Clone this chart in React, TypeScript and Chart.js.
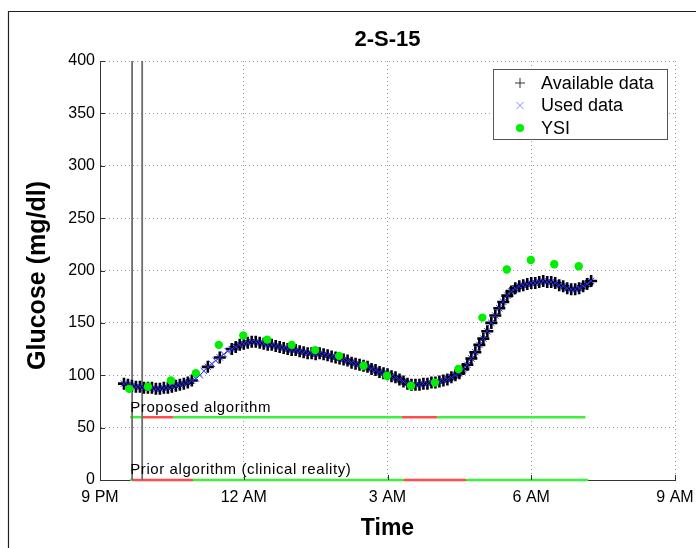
import { useEffect, useRef } from 'react';
import { Chart, registerables } from 'chart.js';

Chart.register(...registerables);

// ---------- text ----------
const chartTitle = '2-S-15';
const xAxisTitle = 'Time';
const yAxisTitle = 'Glucose (mg/dl)';
const legendLabels = ['Available data', 'Used data', 'YSI'];
const proposedLabel = 'Proposed algorithm';
const priorLabel = 'Prior algorithm (clinical reality)';

// ---------- axes ----------
const xTickHours = [21, 24, 27, 30, 33];
const xTickLabels = ['9 PM', '12 AM', '3 AM', '6 AM', '9 AM'];
const yTicks = [0, 50, 100, 150, 200, 250, 300, 350, 400];

// ---------- CGM sensor data (5-minute samples starting 21:30) ----------
const cgmStartHour = 21.5;
const cgmStepMinutes = 5;
const cgmValues = [
  92, 91, 90, 89, 89, 88,
  88, 88, 87, 87, 88, 88, 89, 90, 91, 92, 93, 95,
  97, 100, 104, 108, 111, 114, 117, 120, 123, 125, 127, 129,
  130, 131, 132, 132, 131, 130, 129, 129, 128, 127, 126, 125,
  124, 124, 123, 122, 121, 121, 120, 121, 120, 119, 118, 117,
  116, 115, 114, 112, 111, 110, 109, 108, 106, 105, 103, 102,
  101, 99, 98, 96, 94, 92, 91, 91, 91, 92, 92, 93,
  93, 94, 95, 96, 98, 100, 102, 106, 110, 116, 122, 129,
  135, 142, 150, 157, 164, 170, 176, 180, 183, 185, 186, 187,
  188, 188, 189, 190, 189, 189, 188, 186, 185, 183, 182, 182,
  183, 185, 187, 190,
];
// samples that are used but not present in the raw available stream
const availableMissingIdx = [18, 19, 20, 22, 23, 25, 26];

// ---------- YSI reference ----------
const ysiHours = [21.61, 22.0, 22.48, 23.0, 23.48, 23.99, 24.49, 25.0, 25.49, 25.99, 26.5, 26.99, 27.49, 27.99, 28.48, 28.98, 29.49, 29.99, 30.48, 30.99];
const ysiValues = [87, 89, 95, 102, 129, 138, 134, 129, 124, 118.5, 109, 99.5, 90, 93, 106, 155, 201, 210, 206, 204];

// ---------- sensor insertion markers ----------
const markerHours = [21.67, 21.88];

// ---------- alarm bars ----------
const proposedLevel = 60;
const proposedBounds = [21.63, 21.87, 22.53, 27.3, 28.04, 31.13];
const proposedStates = ['ok', 'alarm', 'ok', 'alarm', 'ok'];
const priorLevel = 0;
const priorBounds = [21.63, 21.68, 22.94, 27.34, 28.64, 31.19];
const priorStates = ['ok', 'alarm', 'ok', 'alarm', 'ok'];

const FONT = '"Liberation Sans", Arial, Helvetica, sans-serif';
const GREEN = '#3cf03c';
const RED = '#ff4d4d';
const BLUE = '#2a2aff';

function segDatasets(level: number, bounds: number[], states: string[]) {
  return states.map((s, i) => ({
    type: 'scatter' as const,
    data: [
      { x: bounds[i], y: level },
      { x: bounds[i + 1], y: level },
    ],
    showLine: true,
    borderColor: s === 'alarm' ? RED : GREEN,
    borderWidth: 2.5,
    pointRadius: 0,
    clip: false as any,
    order: 5,
  }));
}

const overlay = {
  id: 'overlay',
  afterDraw(chart: any) {
    const { ctx, chartArea: ca, scales } = chart;
    const x = scales.x;
    const y = scales.y;
    ctx.save();

    // figure frame
    ctx.strokeStyle = '#222';
    ctx.lineWidth = 1.2;
    ctx.beginPath();
    ctx.moveTo(8.5, 548);
    ctx.lineTo(8.5, 11.5);
    ctx.lineTo(696, 11.5);
    ctx.stroke();

    // inward tick marks
    ctx.strokeStyle = '#333';
    ctx.lineWidth = 1;
    ctx.beginPath();
    yTicks.forEach((v) => {
      const py = Math.round(y.getPixelForValue(v)) + 0.5;
      ctx.moveTo(ca.left, py);
      ctx.lineTo(ca.left + 5, py);
    });
    xTickHours.forEach((h) => {
      const px = Math.round(x.getPixelForValue(h)) + 0.5;
      ctx.moveTo(px, ca.bottom);
      ctx.lineTo(px, ca.bottom - 5);
    });
    ctx.stroke();

    // titles
    ctx.fillStyle = '#000';
    ctx.textAlign = 'center';
    ctx.textBaseline = 'middle';
    ctx.font = `bold 22px ${FONT}`;
    ctx.fillText(chartTitle, (ca.left + ca.right) / 2, 40);
    ctx.font = `bold 23px ${FONT}`;
    ctx.fillText(xAxisTitle, (ca.left + ca.right) / 2, 529);
    ctx.save();
    ctx.font = `bold 25px ${FONT}`;
    ctx.translate(38, (ca.top + ca.bottom) / 2 + 5);
    ctx.rotate(-Math.PI / 2);
    ctx.fillText(yAxisTitle, 0, 0);
    ctx.restore();

    // annotations
    ctx.textAlign = 'left';
    ctx.textBaseline = 'alphabetic';
    ctx.font = `15px ${FONT}`;
    try { (ctx as any).letterSpacing = '0.6px'; } catch (e) {}
    ctx.fillText(proposedLabel, x.getPixelForValue(proposedBounds[0]), y.getPixelForValue(proposedLevel) - 5);
    ctx.fillText(priorLabel, x.getPixelForValue(priorBounds[0]), y.getPixelForValue(priorLevel) - 6);
    try { (ctx as any).letterSpacing = '0px'; } catch (e) {}

    // legend
    const lw = 174, lh = 70;
    const lx = ca.right - 8 - lw;
    const ly = ca.top + 8;
    ctx.fillStyle = '#fff';
    ctx.fillRect(lx, ly, lw, lh);
    ctx.strokeStyle = '#555';
    ctx.lineWidth = 1;
    ctx.strokeRect(lx + 0.5, ly + 0.5, lw, lh);
    const mx = lx + 27;
    const tx = lx + 48;
    const rows = [ly + 14, ly + 36.5, ly + 59];
    // + marker
    ctx.strokeStyle = '#333';
    ctx.lineWidth = 1;
    ctx.beginPath();
    ctx.moveTo(mx - 5, rows[0]); ctx.lineTo(mx + 5, rows[0]);
    ctx.moveTo(mx, rows[0] - 5); ctx.lineTo(mx, rows[0] + 5);
    ctx.stroke();
    // x marker
    ctx.strokeStyle = '#8a8aff';
    ctx.beginPath();
    ctx.moveTo(mx - 3.5, rows[1] - 3.5); ctx.lineTo(mx + 3.5, rows[1] + 3.5);
    ctx.moveTo(mx - 3.5, rows[1] + 3.5); ctx.lineTo(mx + 3.5, rows[1] - 3.5);
    ctx.stroke();
    // dot
    ctx.fillStyle = '#00ee00';
    ctx.beginPath();
    ctx.arc(mx, rows[2], 4, 0, Math.PI * 2);
    ctx.fill();
    ctx.fillStyle = '#000';
    ctx.font = `18px ${FONT}`;
    ctx.textBaseline = 'middle';
    legendLabels.forEach((t, i) => ctx.fillText(t, tx, rows[i] + 1));

    ctx.restore();
  },
};

export default function App() {
  const ref = useRef<HTMLCanvasElement | null>(null);

  useEffect(() => {
    if (!ref.current) return;
    const usedPoints = cgmValues.map((v, i) => ({ x: cgmStartHour + (i * cgmStepMinutes) / 60, y: v }));
    const availablePoints = usedPoints.filter((_, i) => !availableMissingIdx.includes(i));
    const ysiPoints = ysiHours.map((h, i) => ({ x: h, y: ysiValues[i] }));

    const datasets: any[] = [
      {
        label: legendLabels[2],
        data: ysiPoints,
        pointStyle: 'circle',
        pointRadius: 4.2,
        pointBackgroundColor: '#00ee00',
        pointBorderColor: '#00ee00',
        pointBorderWidth: 0,
        showLine: false,
        order: 0,
      },
      {
        label: legendLabels[1],
        data: usedPoints,
        pointStyle: 'crossRot',
        pointRadius: 4.5,
        pointBorderColor: BLUE,
        pointBorderWidth: 1,
        showLine: false,
        order: 1,
      },
      {
        label: legendLabels[0],
        data: availablePoints,
        pointStyle: 'cross',
        pointRadius: 6,
        pointBorderColor: '#000',
        pointBorderWidth: 2.6,
        showLine: false,
        order: 2,
      },
      ...markerHours.map((h) => ({
        data: [
          { x: h, y: 0 },
          { x: h, y: 400 },
        ],
        showLine: true,
        borderColor: '#6e6e6e',
        borderWidth: 1.8,
        pointRadius: 0,
        order: 4,
      })),
      ...segDatasets(proposedLevel, proposedBounds, proposedStates),
      ...segDatasets(priorLevel, priorBounds, priorStates),
    ];

    const chart = new Chart(ref.current, {
      type: 'scatter',
      data: { datasets },
      options: {
        animation: false,
        responsive: true,
        maintainAspectRatio: false,
        layout: { padding: { top: 61, right: 21, left: 0, bottom: 0 } },
        plugins: {
          legend: { display: false },
          tooltip: { enabled: false },
          title: { display: false },
        },
        scales: {
          x: {
            type: 'linear',
            min: 21,
            max: 33,
            afterBuildTicks: (s: any) => {
              s.ticks = xTickHours.map((v) => ({ value: v }));
            },
            afterFit: (s: any) => {
              s.height = 68;
              s.paddingLeft = 0;
              s.paddingRight = 0;
            },
            ticks: {
              color: '#000',
              font: { family: FONT, size: 16 },
              padding: 8,
              maxRotation: 0,
              callback: (v: any) => {
                const i = xTickHours.indexOf(Number(v));
                return i >= 0 ? xTickLabels[i] : '';
              },
            },
            grid: { color: '#9a9a9a', lineWidth: 1, drawTicks: false },
            border: { display: true, color: '#333', width: 1, dash: [1, 3] },
          },
          y: {
            type: 'linear',
            min: 0,
            max: 400,
            afterBuildTicks: (s: any) => {
              s.ticks = yTicks.map((v) => ({ value: v }));
            },
            afterFit: (s: any) => {
              s.width = 100;
              s.paddingTop = 0;
              s.paddingBottom = 0;
            },
            ticks: {
              color: '#000',
              font: { family: FONT, size: 16 },
              padding: 5,
            },
            grid: { color: '#9a9a9a', lineWidth: 1, drawTicks: false },
            border: { display: true, color: '#333', width: 1, dash: [1, 3] },
          },
        },
      },
      plugins: [overlay],
    });
    return () => chart.destroy();
  }, []);

  return (
    <div style={{ position: 'absolute', left: 0, top: 0, width: 696, height: 548, background: '#fff' }}>
      <canvas ref={ref} />
    </div>
  );
}
